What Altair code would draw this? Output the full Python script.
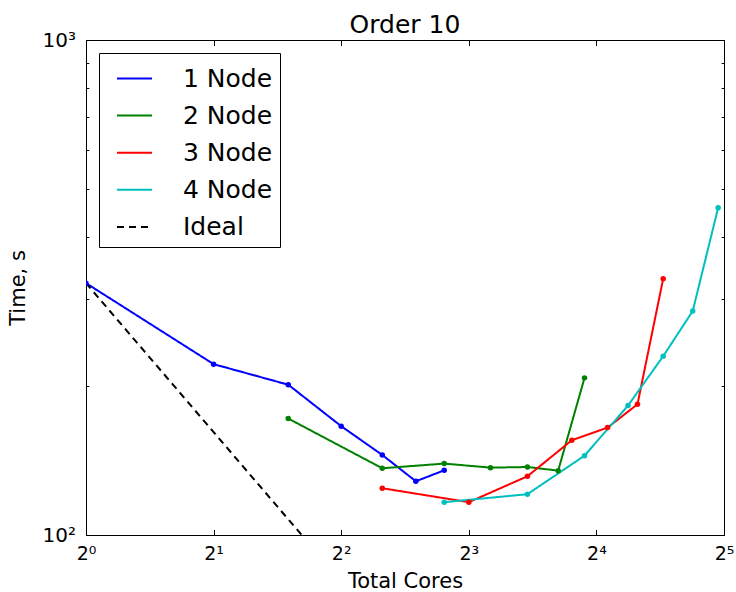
import altair as alt
import pandas as pd

series_names = ["1 Node", "2 Node", "3 Node", "4 Node", "Ideal"]
series_colors = ["#0000ff", "#008000", "#ff0000", "#00bfbf", "#000000"]

cores_1 = [1, 2, 3, 4, 5, 6, 7]
time_1 = [322.7, 221.4, 201.2, 165.9, 145.1, 128.4, 135.1]
cores_2 = [3, 5, 7, 9, 11, 13, 15]
time_2 = [171.9, 136.4, 139.4, 136.8, 137.2, 134.9, 207.7]
cores_3 = [5, 8, 11, 14, 17, 20, 23]
time_3 = [124.3, 116.5, 131.4, 155.4, 164.8, 183.7, 329.5]
cores_4 = [7, 11, 15, 19, 23, 27, 31]
time_4 = [116.5, 120.9, 144.6, 182.6, 229.8, 283.4, 458.3]
ideal_cores = [1, 2, 3, 4]
ideal_time = [322.7, 161.4, 107.6, 80.7]

x_ticks = [1, 2, 4, 8, 16, 32]
x_tick_labels = ["2⁰", "2¹", "2²", "2³", "2⁴", "2⁵"]
y_ticks = [100, 200, 300, 400, 500, 600, 700, 800, 900, 1000]
y_major = [100, 1000]
y_major_labels = ["10²", "10³"]

rows = []
for name, col, cs, ts in zip(series_names, series_colors,
                             [cores_1, cores_2, cores_3, cores_4, ideal_cores],
                             [time_1, time_2, time_3, time_4, ideal_time]):
    for i, (c, t) in enumerate(zip(cs, ts)):
        rows.append({"series": name, "hex": col, "cores": c, "time": t, "idx": i})
df = pd.DataFrame(rows)
pts = df[df["series"] != "Ideal"]

FONT = "DejaVu Sans"

x_label_expr = " : ".join(
    [f"datum.value == {v} ? '{l}'" for v, l in zip(x_ticks, x_tick_labels)]
) + " : ''"
y_label_expr = " : ".join(
    [f"datum.value == {v} ? '{l}'" for v, l in zip(y_major, y_major_labels)]
) + " : ''"
y_tick_size = {"expr": "datum.value == 100 || datum.value == 1000 ? -5.5 : -2.8"}

x_scale = alt.Scale(type="log", base=2, domain=[1, 32], nice=False)
y_scale = alt.Scale(type="log", domain=[100, 1000], nice=False)

common_axis = dict(grid=False, domainColor="black", tickColor="black",
                   labelColor="black", labelFont=FONT, titleFont=FONT,
                   titleColor="black", titleFontWeight="normal",
                   labelOverlap=False, labelFlush=False)

x_axis = alt.Axis(values=x_ticks, labelExpr=x_label_expr, labelFontSize=19,
                  tickSize={"expr": "-5.5"}, labelPadding=15,
                  titleFontSize=21, titlePadding=7, **common_axis)
y_axis = alt.Axis(values=y_ticks, labelExpr=y_label_expr, labelFontSize=20,
                  tickSize=y_tick_size, labelPadding=16,
                  titleFontSize=21, titlePadding=14, **common_axis)

lines = alt.Chart(df).mark_line(clip=True, strokeWidth=2).encode(
    x=alt.X("cores:Q", scale=x_scale, axis=x_axis, title="Total Cores"),
    y=alt.Y("time:Q", scale=y_scale, axis=y_axis, title="Time, s"),
    color=alt.Color("series:N", scale=alt.Scale(domain=series_names, range=series_colors), title=None),
    strokeDash=alt.StrokeDash("series:N", scale=alt.Scale(domain=series_names,
                              range=[[1, 0], [1, 0], [1, 0], [1, 0], [7, 5]]), title=None),
    order="idx:Q",
)

points = alt.Chart(pts).mark_circle(size=30, opacity=1, clip=True).encode(
    x=alt.X("cores:Q", scale=x_scale, axis=None),
    y=alt.Y("time:Q", scale=y_scale, axis=None),
    color=alt.Color("hex:N", scale=None),
)

frame = alt.Chart(pts).mark_point(opacity=0).encode(
    x=alt.X("cores:Q", scale=x_scale,
            axis=alt.Axis(orient="top", values=x_ticks, labels=False, title=None,
                          tickSize={"expr": "-5.5"}, grid=False, domainColor="black",
                          tickColor="black")),
    y=alt.Y("time:Q", scale=y_scale,
            axis=alt.Axis(orient="right", values=y_ticks, labels=False, title=None,
                          tickSize=y_tick_size, grid=False, domainColor="black",
                          tickColor="black")),
)

chart = alt.layer(lines, points, frame).resolve_scale(
    x="independent", y="independent"
).properties(
    width=638, height=495,
    title=alt.TitleParams("Order 10", fontSize=25, font=FONT, fontWeight="normal",
                          color="black", offset=6, dy=14),
    autosize=alt.AutoSizeParams(type="none"),
    padding={"left": 86, "top": 40, "right": 12, "bottom": 57},
).configure_view(stroke=None).configure_legend(
    orient="none", legendX=13, legendY=13, strokeColor="black", fillColor="white",
    padding=7, cornerRadius=0, labelFontSize=25, labelFont=FONT, labelColor="black",
    symbolType="stroke", symbolSize=1225, symbolStrokeWidth=2, rowPadding=5.1,
    symbolOffset=10, labelOffset=30, labelLimit=300,
)

chart.save("out.html", embed_options={"renderer": "svg", "actions": False})
